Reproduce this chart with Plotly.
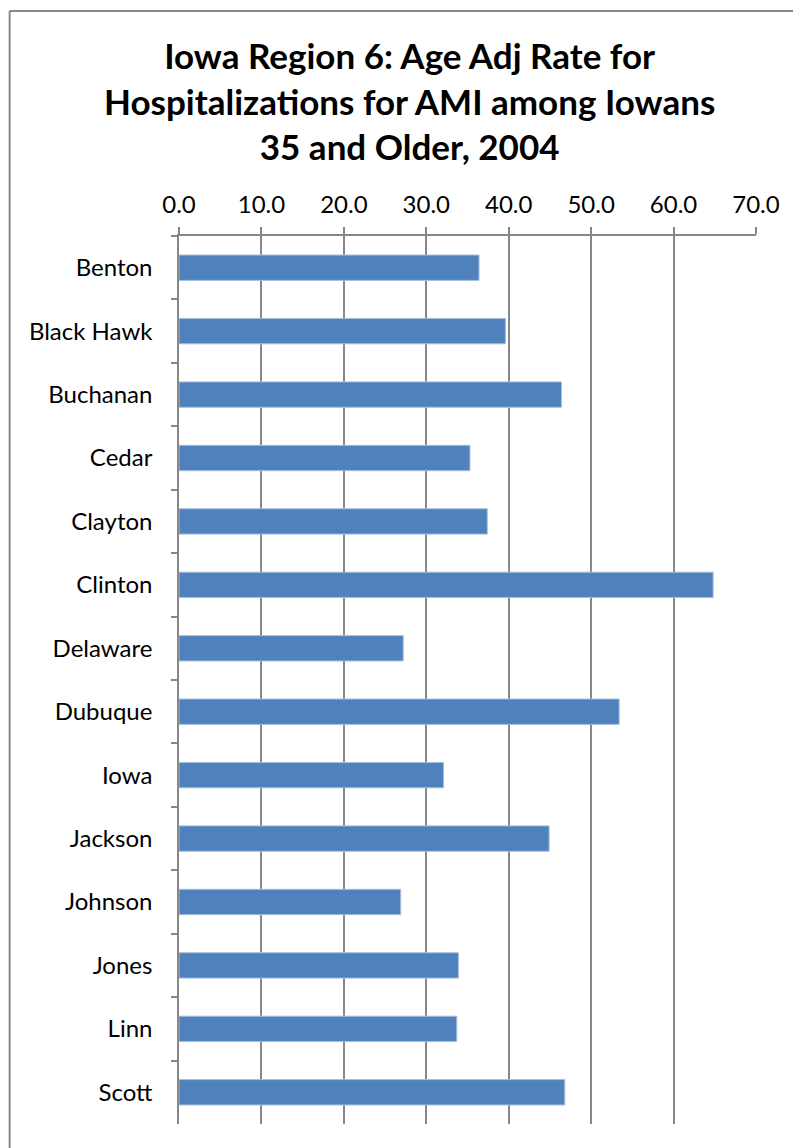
import plotly.graph_objects as go

counties = ["Benton", "Black Hawk", "Buchanan", "Cedar", "Clayton", "Clinton", "Delaware",
            "Dubuque", "Iowa", "Jackson", "Johnson", "Jones", "Linn", "Scott"]
rates = [36.4, 39.6, 46.4, 35.3, 37.4, 64.8, 27.2, 53.4, 32.1, 44.9, 26.9, 33.9, 33.7, 46.8]
x_ticks = [0, 10, 20, 30, 40, 50, 60, 70]
x_tick_labels = ["0.0", "10.0", "20.0", "30.0", "40.0", "50.0", "60.0", "70.0"]
title_lines = ["Iowa Region 6: Age Adj Rate for", "Hospitalizations for AMI among Iowans",
               "35 and Older, 2004"]

W, H = 793, 1148
ml, mt = 178.5, 236
mb = H - 1124
mr = W - 756
pw = W - ml - mr
ph = H - mt - mb

def px_x(x):
    return (x - ml) / pw

def px_y(y):
    return (H - mb - y) / ph

fig = go.Figure(go.Bar(
    x=rates, y=counties, orientation="h",
    marker=dict(color="#4F81BD", line=dict(color="#A7C0DE", width=1)),
))

fig.update_layout(
    width=W, height=H,
    margin=dict(l=ml, r=mr, t=mt, b=mb),
    paper_bgcolor="white", plot_bgcolor="white",
    bargap=0.6,
    showlegend=False,
    font=dict(family="Lato, Calibri, sans-serif", color="black"),
)
fig.add_annotation(
    text="<br>".join(title_lines), xref="paper", yref="paper",
    x=px_x(409), y=px_y(100), xanchor="center", yanchor="middle",
    showarrow=False, align="center",
    font=dict(family="Lato, sans-serif", size=35, color="black", weight="bold"),
)
fig.update_xaxes(
    side="top", range=[0, 70], tickvals=x_ticks, ticktext=x_tick_labels,
    showgrid=True, gridcolor="#878787", gridwidth=1.5,
    showline=True, linecolor="#878787", linewidth=1.5,
    ticks="outside", ticklen=7, tickcolor="#878787", tickwidth=1.5,
    ticklabelstandoff=5,
    tickfont=dict(size=24, family="Lato, sans-serif", color="black"),
    zeroline=False, fixedrange=True,
)
fig.update_yaxes(
    categoryorder="array", categoryarray=counties, autorange="reversed",
    showline=True, linecolor="#878787", linewidth=1.5,
    ticks="outside", ticklen=6, tickcolor="#878787", tickwidth=1.5,
    tickson="boundaries", ticklabelstandoff=20,
    tickfont=dict(size=24, family="Lato, sans-serif", color="black"),
    showgrid=False, fixedrange=True,
)
# outer chart border (only top and left edges fall inside the picture)
border = dict(color="#878787", width=2)
fig.add_shape(type="line", xref="paper", yref="paper",
              x0=px_x(9), x1=px_x(800), y0=px_y(11), y1=px_y(11), line=border)
fig.add_shape(type="line", xref="paper", yref="paper",
              x0=px_x(9), x1=px_x(9), y0=px_y(11), y1=px_y(1160), line=border)

fig.write_html(
    "out.html",
    config={"displayModeBar": False},
    post_script="document.body.style.margin='0';document.body.style.overflow='hidden';",
)
